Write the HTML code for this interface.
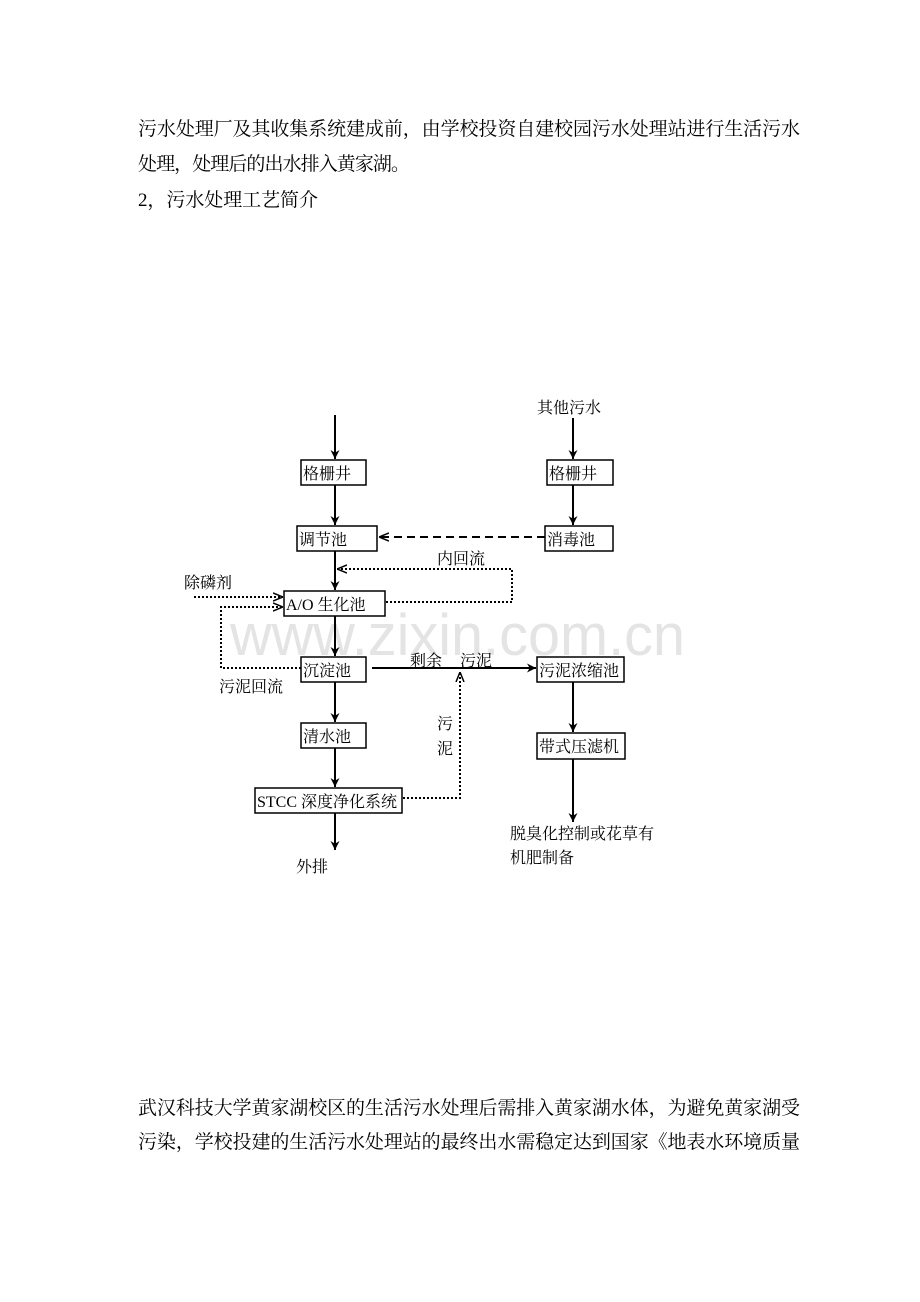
<!DOCTYPE html>
<html><head><meta charset="utf-8"><style>
body{margin:0;background:#fff}
svg{display:block}
text{font-family:"Liberation Serif","Noto Serif CJK SC","Noto Sans CJK SC",serif;fill:#000}
</style></head><body>
<svg width="920" height="1302" viewBox="0 0 920 1302" xmlns="http://www.w3.org/2000/svg">
<defs>
<marker id="a" viewBox="0 0 10 10" refX="10" refY="5" markerWidth="9" markerHeight="9" orient="auto" markerUnits="userSpaceOnUse"><path d="M0,0 L10,5 L0,10 L3,5 z" fill="#000"/></marker>
<marker id="o" viewBox="0 0 10 10" refX="10" refY="5" markerWidth="10" markerHeight="10" orient="auto" markerUnits="userSpaceOnUse"><path d="M0,1 L10,5 L0,9" fill="none" stroke="#000" stroke-width="1.5"/></marker>
</defs>
<text x="138" y="135" font-size="19" textLength="662" lengthAdjust="spacing">污水处理厂及其收集系统建成前，由学校投资自建校园污水处理站进行生活污水</text>
<text x="138" y="170" font-size="19" textLength="272" lengthAdjust="spacing">处理，处理后的出水排入黄家湖。</text>
<text x="138" y="206" font-size="19" textLength="180" lengthAdjust="spacing">2，污水处理工艺简介</text>

<text x="230" y="655" font-size="58" style="font-family:'Liberation Sans',sans-serif;fill:#e4e4e4" textLength="455" lengthAdjust="spacingAndGlyphs">www.zixin.com.cn</text>

<g stroke="#000" stroke-width="1.5" fill="none">
<rect x="301" y="460" width="65" height="25"/>
<rect x="547" y="460" width="66" height="25"/>
<rect x="297" y="526" width="80" height="25"/>
<rect x="545" y="526" width="68" height="25"/>
<rect x="284" y="591" width="101" height="25"/>
<rect x="301" y="657" width="65" height="25"/>
<rect x="537" y="657" width="87" height="25"/>
<rect x="301" y="723" width="65" height="25"/>
<rect x="255" y="788" width="147" height="25"/>
<rect x="537" y="733" width="88" height="26"/>
</g>
<g stroke="#000" stroke-width="2" fill="none" marker-end="url(#a)">
<line x1="335" y1="415" x2="335" y2="459"/>
<line x1="335" y1="485" x2="335" y2="525"/>
<line x1="335" y1="551" x2="335" y2="590"/>
<line x1="335" y1="616" x2="335" y2="656"/>
<line x1="335" y1="682" x2="335" y2="722"/>
<line x1="335" y1="748" x2="335" y2="787"/>
<line x1="335" y1="813" x2="335" y2="850"/>
<line x1="573" y1="418" x2="573" y2="459"/>
<line x1="573" y1="485" x2="573" y2="525"/>
<line x1="573" y1="682" x2="573" y2="732"/>
<line x1="573" y1="759" x2="573" y2="822"/>
<line x1="372" y1="668" x2="536" y2="668"/>
</g>
<g stroke="#000" stroke-width="2" fill="none" marker-end="url(#o)">
<line x1="545" y1="537" x2="379" y2="537" stroke-dasharray="8,5"/>
</g>
<g stroke="#000" stroke-width="2" fill="none" stroke-dasharray="2,2" marker-end="url(#o)">
<polyline points="386,602 512,602 512,569 337,569"/>
<line x1="194" y1="597" x2="283" y2="597"/>
<polyline points="301,668 221,668 221,607 283,607"/>
<polyline points="403,798 460,798 460,672"/>
</g>
<g font-size="16">
<text x="303" y="479">格栅井</text>
<text x="549" y="479">格栅井</text>
<text x="299" y="545">调节池</text>
<text x="547" y="545">消毒池</text>
<text x="286" y="610">A/O 生化池</text>
<text x="303" y="676">沉淀池</text>
<text x="539" y="676">污泥浓缩池</text>
<text x="303" y="742">清水池</text>
<text x="257" y="807">STCC 深度净化系统</text>
<text x="539" y="752">带式压滤机</text>
<text x="537" y="413">其他污水</text>
<text x="437" y="564">内回流</text>
<text x="184" y="588">除磷剂</text>
<text x="219" y="692">污泥回流</text>
<text x="410" y="666">剩余</text>
<text x="460" y="666">污泥</text>
<text x="437" y="729">污</text>
<text x="437" y="754">泥</text>
<text x="510" y="839">脱臭化控制或花草有</text>
<text x="510" y="863">机肥制备</text>
<text x="296" y="872">外排</text>
</g>
<text x="138" y="1114" font-size="19" textLength="662" lengthAdjust="spacing">武汉科技大学黄家湖校区的生活污水处理后需排入黄家湖水体，为避免黄家湖受</text>
<text x="138" y="1148" font-size="19" textLength="662" lengthAdjust="spacing">污染，学校投建的生活污水处理站的最终出水需稳定达到国家《地表水环境质量</text>
</svg>
</body></html>
